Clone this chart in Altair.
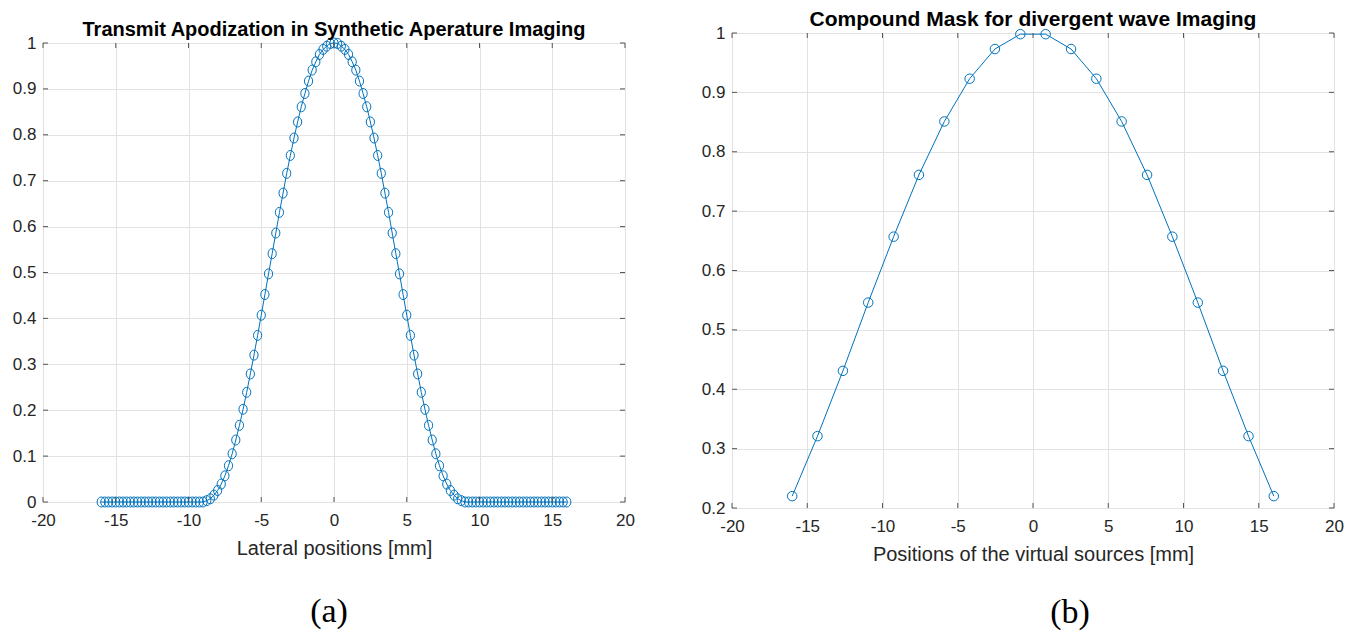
import altair as alt
import pandas as pd

# ---------------- Panel (a): transmit apodization ----------------
lat_pos = [
    -16.0, -15.75, -15.5, -15.25, -15.0, -14.75, -14.5, -14.25,
    -14.0, -13.75, -13.5, -13.25, -13.0, -12.75, -12.5, -12.25,
    -12.0, -11.75, -11.5, -11.25, -11.0, -10.75, -10.5, -10.25,
    -10.0, -9.75, -9.5, -9.25, -9.0, -8.75, -8.5, -8.25,
    -8.0, -7.75, -7.5, -7.25, -7.0, -6.75, -6.5, -6.25,
    -6.0, -5.75, -5.5, -5.25, -5.0, -4.75, -4.5, -4.25,
    -4.0, -3.75, -3.5, -3.25, -3.0, -2.75, -2.5, -2.25,
    -2.0, -1.75, -1.5, -1.25, -1.0, -0.75, -0.5, -0.25,
    0.0,
    0.25, 0.5, 0.75, 1.0, 1.25, 1.5, 1.75, 2.0,
    2.25, 2.5, 2.75, 3.0, 3.25, 3.5, 3.75, 4.0,
    4.25, 4.5, 4.75, 5.0, 5.25, 5.5, 5.75, 6.0,
    6.25, 6.5, 6.75, 7.0, 7.25, 7.5, 7.75, 8.0,
    8.25, 8.5, 8.75, 9.0, 9.25, 9.5, 9.75, 10.0,
    10.25, 10.5, 10.75, 11.0, 11.25, 11.5, 11.75, 12.0,
    12.25, 12.5, 12.75, 13.0, 13.25, 13.5, 13.75, 14.0,
    14.25, 14.5, 14.75, 15.0, 15.25, 15.5, 15.75, 16.0,
]
apodization = [
    0, 0, 0, 0, 0, 0, 0, 0, 0, 0, 0, 0, 0, 0, 0, 0,
    0, 0, 0, 0, 0, 0, 0, 0, 0, 0, 0, 0, 0,
    0.003, 0.007, 0.015, 0.025, 0.039, 0.057, 0.079, 0.105,
    0.135, 0.167, 0.202, 0.239, 0.279, 0.320, 0.363, 0.407,
    0.452, 0.497, 0.541, 0.586, 0.631, 0.673, 0.716, 0.755, 0.793, 0.828,
    0.861, 0.890, 0.917, 0.941, 0.959, 0.975, 0.986, 0.993, 0.999,
    1.000,
    0.999, 0.993, 0.986, 0.975, 0.959, 0.941, 0.917, 0.890, 0.861,
    0.828, 0.793, 0.755, 0.716, 0.673, 0.631, 0.586, 0.541, 0.497, 0.452,
    0.407, 0.363, 0.320, 0.279, 0.239, 0.202, 0.167, 0.135,
    0.105, 0.079, 0.057, 0.039, 0.025, 0.015, 0.007, 0.003,
    0, 0, 0, 0, 0, 0, 0, 0, 0, 0, 0, 0, 0, 0, 0, 0,
    0, 0, 0, 0, 0, 0, 0, 0, 0, 0, 0, 0, 0,
]

# ---------------- Panel (b): compound mask ----------------
virtual_src = [-16.0, -14.32, -12.63, -10.95, -9.26, -7.58, -5.89, -4.21, -2.53, -0.84,
               0.84, 2.53, 4.21, 5.89, 7.58, 9.26, 10.95, 12.63, 14.32, 16.0]
compound_mask = [0.220, 0.321, 0.431, 0.546, 0.657, 0.761, 0.851, 0.923, 0.973, 0.998,
                 0.998, 0.973, 0.923, 0.851, 0.761, 0.657, 0.546, 0.431, 0.321, 0.220]

x_ticks = [-20, -15, -10, -5, 0, 5, 10, 15, 20]
ya_ticks = [0, 0.1, 0.2, 0.3, 0.4, 0.5, 0.6, 0.7, 0.8, 0.9, 1]
yb_ticks = [0.2, 0.3, 0.4, 0.5, 0.6, 0.7, 0.8, 0.9, 1]

BLUE = "#0072BD"
BOX = "#555555"
GRID = "#e2e2e2"
TXT = "#262626"
FONT = "Liberation Sans"
TICK = 5
ELLIPSE = "M0,-1.12A0.92,1.12,0,1,1,0,1.12A0.92,1.12,0,1,1,0,-1.12Z"


def panel(xs, ys, yticks, ydom, w, h, title, tsize, xtitle, tag, tag_x, tag_y, shape, msize):
    df = pd.DataFrame({"x": xs, "y": ys})
    xenc = alt.X("x:Q", scale=alt.Scale(domain=[-20, 20], nice=False, zero=False),
                 axis=alt.Axis(values=x_ticks, title=xtitle, grid=True, gridColor=GRID,
                               ticks=False, domain=False, labelExpr="toString(datum.value)",
                               labelFont=FONT, labelFontSize=17, labelColor=TXT, labelPadding=10,
                               titleFont=FONT, titleFontSize=20, titleFontWeight="normal",
                               titleColor=TXT, titlePadding=10, labelFlush=False))
    yenc = alt.Y("y:Q", scale=alt.Scale(domain=ydom, nice=False, zero=False),
                 axis=alt.Axis(values=yticks, title=None, grid=True, gridColor=GRID,
                               ticks=False, domain=False, labelExpr="toString(datum.value)",
                               labelFont=FONT, labelFontSize=17, labelColor=TXT, labelPadding=7,
                               labelFlush=False))
    base = alt.Chart(df)
    line = base.mark_line(color=BLUE, strokeWidth=1).encode(x=xenc, y=yenc)
    pts = base.mark_point(shape=shape, filled=False, color=BLUE, size=msize,
                          strokeWidth=1, opacity=1).encode(x="x:Q", y="y:Q")
    xt = alt.Chart(pd.DataFrame({"x": x_ticks}))
    yt = alt.Chart(pd.DataFrame({"y": yticks}))
    tb = xt.mark_rule(color=BOX, strokeWidth=1).encode(x="x:Q", y=alt.value(h), y2=alt.value(h - TICK))
    tt = xt.mark_rule(color=BOX, strokeWidth=1).encode(x="x:Q", y=alt.value(0), y2=alt.value(TICK))
    tl = yt.mark_rule(color=BOX, strokeWidth=1).encode(y="y:Q", x=alt.value(0), x2=alt.value(TICK))
    tr = yt.mark_rule(color=BOX, strokeWidth=1).encode(y="y:Q", x=alt.value(w), x2=alt.value(w - TICK))
    lab = alt.Chart(pd.DataFrame({"t": [tag]})).mark_text(
        font="Liberation Serif", fontSize=34, color="black", baseline="middle", align="center"
    ).encode(text="t:N", x=alt.value(tag_x), y=alt.value(tag_y))
    return alt.layer(line, pts, tb, tt, tl, tr, lab).properties(
        width=w, height=h,
        title=alt.TitleParams(title, font=FONT, fontSize=tsize, fontWeight="bold", color="black",
                              anchor="middle", offset=-6),
    )


left = panel(lat_pos, apodization, ya_ticks, [0, 1], 582, 459,
             "Transmit Apodization in Synthetic Aperature Imaging", 20,
             "Lateral positions [mm]", "(a)", 286, 569, ELLIPSE, 80)
right = panel(virtual_src, compound_mask, yb_ticks, [0.2, 1], 602, 475,
              "Compound Mask for divergent wave Imaging", 21,
              "Positions of the virtual sources [mm]", "(b)", 338, 580, "circle", 90)

spacer = alt.Chart(pd.DataFrame({"v": [0]})).mark_point(opacity=0).properties(width=1, height=1)
left_col = alt.vconcat(spacer, left, spacing=-18)

chart = alt.hconcat(left_col, right, spacing=65).properties(
    padding={"left": 3, "top": 0, "right": 0, "bottom": 0}
).configure_view(stroke=BOX, strokeWidth=1).configure(background="white")

chart.save("out.html", embed_options={"renderer": "svg", "actions": False})
